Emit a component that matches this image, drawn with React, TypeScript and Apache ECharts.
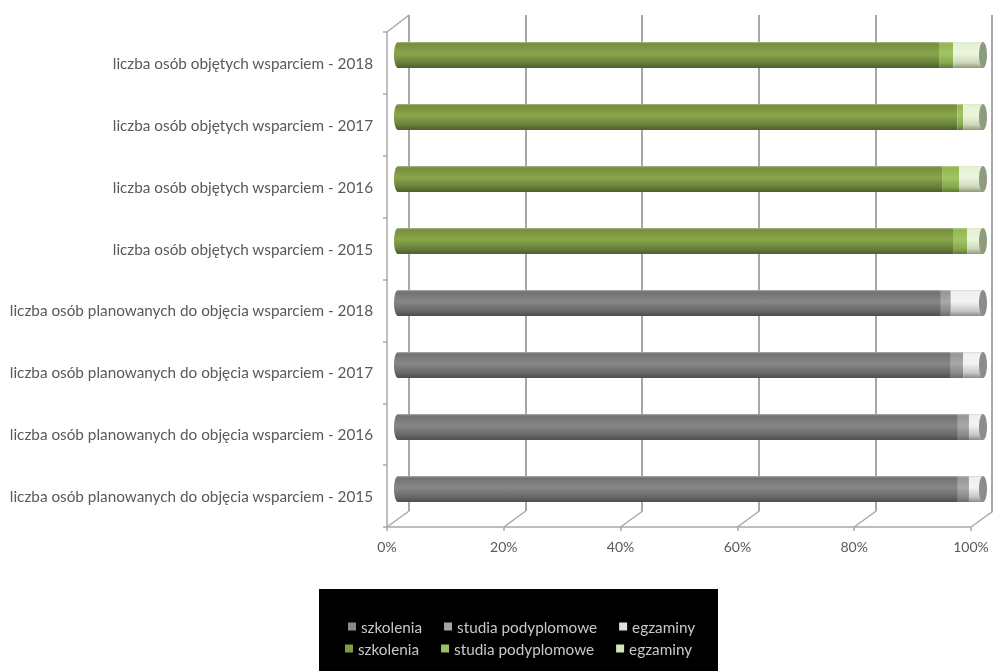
import React, { useEffect, useRef } from "react";
import * as echarts from "echarts";

const categories = [
  "liczba osób planowanych do objęcia wsparciem - 2015",
  "liczba osób planowanych do objęcia wsparciem - 2016",
  "liczba osób planowanych do objęcia wsparciem - 2017",
  "liczba osób planowanych do objęcia wsparciem - 2018",
  "liczba osób objętych wsparciem - 2015",
  "liczba osób objętych wsparciem - 2016",
  "liczba osób objętych wsparciem - 2017",
  "liczba osób objętych wsparciem - 2018",
];
const legendNames = ["szkolenia", "studia podyplomowe", "egzaminy"];
const planSzkolenia = [95.7, 95.7, 94.5, 92.8, null, null, null, null];
const planStudia = [1.9, 1.9, 2.1, 1.7, null, null, null, null];
const planEgzaminy = [2.4, 2.4, 3.4, 5.5, null, null, null, null];
const realSzkolenia = [null, null, null, null, 95.0, 93.0, 95.6, 92.6];
const realStudia = [null, null, null, null, 2.3, 2.9, 1.0, 2.3];
const realEgzaminy = [null, null, null, null, 2.7, 4.1, 3.4, 5.1];
const axisTicks = [0, 20, 40, 60, 80, 100];

const grad = (stops: string[]) =>
  new echarts.graphic.LinearGradient(
    0, 0, 0, 1,
    stops.map((color, i) => ({ color, offset: [0, 0.07, 0.45, 0.8, 1][i] }))
  );
const palette = {
  g1: ["#b0b0b0", "#727272", "#878787", "#686868", "#4e4e4e"],
  g2: ["#c0c0c0", "#969696", "#a8a8a8", "#8a8a8a", "#6c6c6c"],
  g3: ["#d8d8d8", "#f0f0f0", "#f2f2f2", "#c8c8c8", "#8c8c8c"],
  v1: ["#aab58f", "#758e3c", "#8aa64a", "#66803a", "#4c5f2a"],
  v2: ["#bcd09a", "#92b653", "#a0c562", "#88a94e", "#5f7a38"],
  v3: ["#dfe6d0", "#e6f1d2", "#ecf5dc", "#cdd8b8", "#8e9a78"],
};
const legendColors = [
  ["#8a8a8a", "#a6a6a6", "#e0e0e0"],
  ["#7d9c3e", "#9bc25a", "#d5e6b5"],
];
const LINE = "#a8a8a8";
const FONT = "Lato";

export default function App() {
  const ref = useRef<HTMLDivElement>(null);
  useEffect(() => {
    document.body.style.margin = "0";
    const chart = echarts.init(ref.current!, null, { renderer: "svg" });
    const seriesDefs: [string, (number | null)[], string[]][] = [
      [legendNames[0], planSzkolenia, palette.g1],
      [legendNames[1], planStudia, palette.g2],
      [legendNames[2], planEgzaminy, palette.g3],
      [legendNames[0], realSzkolenia, palette.v1],
      [legendNames[1], realStudia, palette.v2],
      [legendNames[2], realEgzaminy, palette.v3],
    ];
    const caps = categories.flatMap((_, i) => [[0, i], [100, i]]);
    const ticksData = axisTicks.map((t) => [t]);
    const legendRow = (row: number, left: number, top: number) => ({
      left, top, orient: "horizontal" as const, itemWidth: 8, itemHeight: 8, itemGap: 22,
      selectedMode: false, icon: "rect",
      textStyle: { color: "#c8c8c8", fontFamily: FONT, fontSize: 15.3 },
      data: legendNames.map((name, i) => ({ name, itemStyle: { color: legendColors[row][i] } })),
    });
    chart.setOption({
      animation: false,
      backgroundColor: "#ffffff",
      graphic: [
        { type: "rect", z: -10, shape: { x: 319, y: 589, width: 399, height: 82 }, style: { fill: "#000" } },
      ],
      legend: [legendRow(0, 343, 614), legendRow(1, 340, 636)],
      grid: [
        { left: 398, top: 24, width: 585, height: 496 },
        { left: 409, top: 15, width: 583, height: 496 },
        { left: 387, top: 32, width: 584, height: 495 },
      ],
      xAxis: [
        { gridIndex: 0, type: "value", min: 0, max: 100, show: false },
        {
          gridIndex: 1, type: "value", min: 0, max: 100, interval: 20,
          axisLabel: { show: false }, axisTick: { show: false }, axisLine: { show: false },
          splitLine: { show: true, lineStyle: { color: LINE, width: 2 } },
        },
        {
          gridIndex: 2, type: "value", min: 0, max: 100, interval: 20,
          axisLabel: { formatter: "{value}%", color: "#595959", fontFamily: FONT, fontSize: 14, margin: 12 },
          axisTick: { show: true, length: 4, lineStyle: { color: LINE, width: 1.5 } },
          axisLine: { show: true, lineStyle: { color: LINE, width: 1.5 } },
          splitLine: { show: false },
        },
      ],
      yAxis: [
        { gridIndex: 0, type: "category", data: categories, show: false },
        { gridIndex: 1, type: "value", show: false },
        {
          gridIndex: 2, type: "category", data: categories,
          axisLabel: { color: "#595959", fontFamily: FONT, fontSize: 15.3, margin: 14, interval: 0 },
          axisTick: { show: true, length: 4, lineStyle: { color: LINE, width: 1.5 } },
          axisLine: { show: true, lineStyle: { color: LINE, width: 1.5 } },
        },
      ],
      series: [
        {
          type: "custom", xAxisIndex: 2, yAxisIndex: 2, silent: true, z: 1, data: ticksData,
          encode: { x: 0 },
          renderItem: (params: any, api: any) => {
            const cs = params.coordSys;
            const x = api.coord([api.value(0), 0])[0];
            const y = cs.y + cs.height;
            return { type: "line", shape: { x1: x, y1: y, x2: x + 22, y2: y - 16 }, style: { stroke: LINE, lineWidth: 1.5 } };
          },
        },
        {
          type: "custom", xAxisIndex: 2, yAxisIndex: 2, silent: true, z: 1, data: [[0]],
          encode: { x: 0 },
          renderItem: (params: any, api: any) => {
            const cs = params.coordSys;
            const x = api.coord([api.value(0), 0])[0];
            return { type: "line", shape: { x1: x, y1: cs.y, x2: x + 22, y2: cs.y - 17 }, style: { stroke: LINE, lineWidth: 1.5 } };
          },
        },
        {
          type: "custom", xAxisIndex: 0, yAxisIndex: 0, silent: true, z: 2, data: caps,
          encode: { x: 0, y: 1 },
          renderItem: (_: any, api: any) => {
            const v = api.value(0);
            const idx = api.value(1);
            const [x, y] = api.coord([v, idx]);
            const plan = idx < 4;
            const fill = v === 0
              ? grad(plan ? palette.g1 : palette.v1)
              : plan ? "#8c8c8c" : "#8d9b7e";
            return { type: "ellipse", z2: v === 0 ? 0 : 5, shape: { cx: x, cy: y, rx: 4, ry: 13 }, style: { fill } };
          },
        },
        ...seriesDefs.map(([name, data, colors]) => ({
          name, type: "bar", xAxisIndex: 0, yAxisIndex: 0, stack: "total", barWidth: 26, z: 2,
          data, silent: true,
          itemStyle: { color: grad(colors) },
        })),
      ],
    });
    return () => chart.dispose();
  }, []);
  return (
    <div
      ref={ref}
      style={{ position: "absolute", left: 0, top: 0, width: 993, height: 671, overflow: "hidden", filter: "blur(0.7px)" }}
    />
  );
}
